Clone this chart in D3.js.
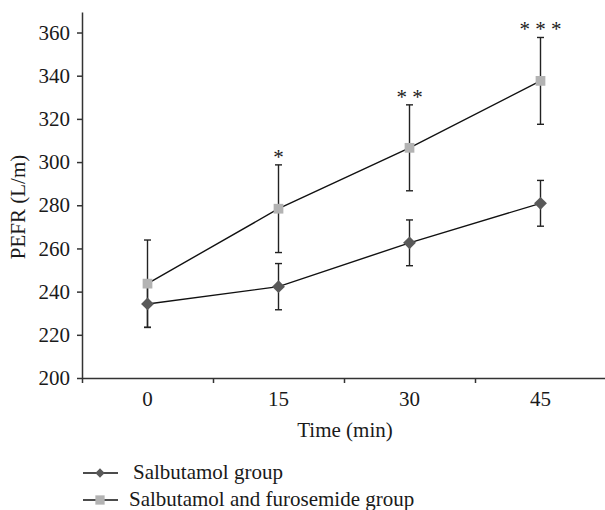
<!DOCTYPE html>
<html>
<head>
<meta charset="utf-8">
<script src="https://cdn.jsdelivr.net/npm/d3@7"></script>
<style>
  html, body { margin: 0; padding: 0; background: #fff; }
  svg { display: block; }
  text { font-family: "Liberation Serif", "DejaVu Serif", serif; fill: #1a1a1a; }
</style>
</head>
<body>
<svg id="chart" width="605" height="510"></svg>
<script>
// ---- data ----
const timePoints = ["0", "15", "30", "45"];
const salbutamolMean = [234.3, 242.3, 262.6, 280.9];
const salbutamolErr  = [10.9, 10.7, 10.6, 10.6];
const comboMean = [243.7, 278.4, 306.6, 337.6];
const comboErr  = [20.2, 20.3, 19.9, 20.1];
const significance = ["", "*", "* *", "* * *"];
const yTicks = [200, 220, 240, 260, 280, 300, 320, 340, 360];
const seriesNames = ["Salbutamol group", "Salbutamol and furosemide group"];

// ---- layout ----
const svg = d3.select("#chart");
const x = d3.scaleBand().domain(timePoints).range([82, 606]);
const xb = d3.scaleLinear().domain([0, timePoints.length]).range([82, 606]);
const y = d3.scaleLinear().domain([200, 369.5]).range([378, 12]);
const cx = d => x(d) + x.bandwidth() / 2;

const axisColor = "#333";
const FS = "21px";

// y axis
const gy = svg.append("g").attr("transform", "translate(82,0)")
  .call(d3.axisLeft(y).tickValues(yTicks).tickSize(5).tickPadding(7).tickSizeOuter(0));
gy.selectAll("text").style("font-size", FS).style("font-family", "Liberation Serif").attr("fill", "#1a1a1a");
gy.selectAll("line, path").attr("stroke", axisColor).attr("stroke-width", 1.5);

// x axis (boundary ticks)
const gxb = svg.append("g").attr("transform", "translate(0,378)")
  .call(d3.axisBottom(xb).tickValues(d3.range(0, timePoints.length + 1)).tickFormat("").tickSize(5).tickSizeOuter(0));
gxb.selectAll("line, path").attr("stroke", axisColor).attr("stroke-width", 1.5);

// x axis labels
const gx = svg.append("g").attr("transform", "translate(0,378)")
  .call(d3.axisBottom(x).tickSize(0).tickPadding(13));
gx.select(".domain").remove();
gx.selectAll("text").style("font-size", FS).style("font-family", "Liberation Serif").attr("fill", "#1a1a1a");

// axis titles
svg.append("text").attr("x", 345).attr("y", 437).attr("text-anchor", "middle")
  .style("font-size", FS).text("Time (min)");
svg.append("text").attr("transform", "translate(25,207) rotate(-90)").attr("text-anchor", "middle")
  .style("font-size", FS).text("PEFR (L/m)");

const series = [
  { mean: salbutamolMean, err: salbutamolErr, color: "#595959", shape: d3.symbolDiamond2 },
  { mean: comboMean, err: comboErr, color: "#b3b3b3", shape: d3.symbolSquare2 }
];

// error bars
series.forEach(s => {
  const g = svg.append("g");
  timePoints.forEach((t, i) => {
    const px = cx(t), top = y(s.mean[i] + s.err[i]), bot = y(s.mean[i] - s.err[i]);
    g.append("line").attr("x1", px).attr("x2", px).attr("y1", top).attr("y2", bot)
      .attr("stroke", "#222").attr("stroke-width", 1.4);
    [top, bot].forEach(yy => g.append("line").attr("x1", px - 3.5).attr("x2", px + 3.5)
      .attr("y1", yy).attr("y2", yy).attr("stroke", "#222").attr("stroke-width", 1.4));
  });
});

// lines
const line = d3.line().x((d, i) => cx(timePoints[i])).y(d => y(d));
series.forEach(s => {
  svg.append("path").datum(s.mean).attr("d", line)
    .attr("fill", "none").attr("stroke", "#111").attr("stroke-width", 1.4);
});

// markers
series.forEach(s => {
  svg.append("g").selectAll("path").data(s.mean).join("path")
    .attr("transform", (d, i) => `translate(${cx(timePoints[i])},${y(d)})`)
    .attr("d", d3.symbol().type(s.shape).size(s.shape === d3.symbolSquare2 ? 121 : 105)())
    .attr("fill", s.color).attr("stroke", "none");
});

// significance stars
svg.append("g").selectAll("text").data(significance).join("text")
  .attr("x", (d, i) => cx(timePoints[i]))
  .attr("y", (d, i) => y(comboMean[i] + comboErr[i]) - 1)
  .attr("text-anchor", "middle").style("font-size", FS).text(d => d);

// legend
const legendRows = [473, 500];
series.forEach((s, i) => {
  const g = svg.append("g");
  g.append("line").attr("x1", 83).attr("x2", 118).attr("y1", legendRows[i]).attr("y2", legendRows[i])
    .attr("stroke", "#111").attr("stroke-width", 1.4);
  g.append("path").attr("transform", `translate(100,${legendRows[i]})`)
    .attr("d", d3.symbol().type(s.shape).size(s.shape === d3.symbolSquare2 ? 110 : 55)())
    .attr("fill", s.color);
  g.append("text").attr("x", i === 0 ? 133 : 129).attr("y", legendRows[i] + 6)
    .style("font-size", FS).text(seriesNames[i]);
});
</script>
</body>
</html>
